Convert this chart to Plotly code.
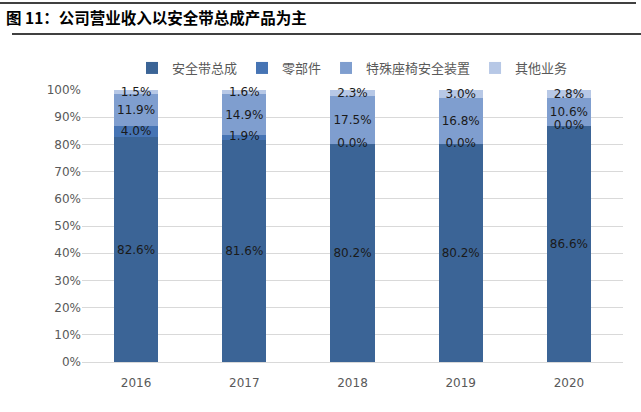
import plotly.graph_objects as go

years = ["2016", "2017", "2018", "2019", "2020"]
belt = [82.6, 81.6, 80.2, 80.2, 86.6]
parts = [4.0, 1.9, 0.0, 0.0, 0.0]
seat = [11.9, 14.9, 17.5, 16.8, 10.6]
other = [1.5, 1.6, 2.3, 3.0, 2.8]

names = ["安全带总成", "零部件", "特殊座椅安全装置", "其他业务"]
colors = ["#3B6496", "#4674B4", "#7F9ECF", "#B7C8E6"]
series = [belt, parts, seat, other]

W, H = 641, 412
ML, MR, MT, MB = 82, 18, 90, 50
PW, PH = W - ML - MR, H - MT - MB

def px_x(x):
    return (x - ML) / PW

def px_y(y):
    return (H - MB - y) / PH

lab_font = dict(color="#1a1a1a", size=12, family="DejaVu Sans")

fig = go.Figure()
for name, vals, col in zip(names, series, colors):
    is_parts = name == "零部件"
    fig.add_trace(go.Bar(
        x=years, y=vals, name=name, marker=dict(color=col, line=dict(width=0)),
        text=None if is_parts else [f"{v:.1f}%" for v in vals],
        textposition="inside", insidetextanchor="middle", constraintext="none",
        textfont=lab_font, cliponaxis=False,
    ))

# labels for the thin 零部件 segment (incl. zero values)
fig.add_trace(go.Scatter(
    x=years, y=[b + p / 2 for b, p in zip(belt, parts)], mode="text",
    text=[f"{p:.1f}%" for p in parts], textposition="middle center",
    textfont=lab_font, showlegend=False, hoverinfo="skip", cliponaxis=False,
))

fig.update_layout(
    barmode="stack", bargap=0.59,
    width=W, height=H,
    margin=dict(l=ML, r=MR, t=MT, b=MB),
    plot_bgcolor="white", paper_bgcolor="white",
    font=dict(family="Noto Sans CJK SC", size=12, color="#595959"),
    legend=dict(orientation="h", x=0.5, xanchor="center", y=px_y(68), yanchor="middle",
                font=dict(size=13, color="#595959"), traceorder="normal"),
    uniformtext=dict(minsize=8, mode="show"),
    showlegend=True,
)
fig.update_yaxes(range=[0, 100], dtick=10, ticksuffix="%", showgrid=True,
                 gridcolor="#D9D9D9", zeroline=False, showline=False,
                 tickfont=dict(size=12, color="#595959", family="DejaVu Sans"))
fig.update_xaxes(showline=True, linecolor="#D9D9D9", ticks="", ticklabelstandoff=10,
                 tickfont=dict(size=12, color="#595959", family="DejaVu Sans"))

fig.add_annotation(text="<b>图 11：公司营业收入以安全带总成产品为主</b>", xref="paper", yref="paper",
                   x=px_x(4), y=px_y(17), xanchor="left", yanchor="middle", showarrow=False,
                   font=dict(size=15.5, color="black", family="Noto Sans CJK SC"))
fig.add_shape(type="line", xref="paper", yref="paper", x0=px_x(0), x1=px_x(636),
              y0=px_y(3), y1=px_y(3), line=dict(color="black", width=1.5))
fig.add_shape(type="line", xref="paper", yref="paper", x0=px_x(12), x1=px_x(641),
              y0=px_y(34), y1=px_y(34), line=dict(color="black", width=1.5))

fig.write_html("out.html")
